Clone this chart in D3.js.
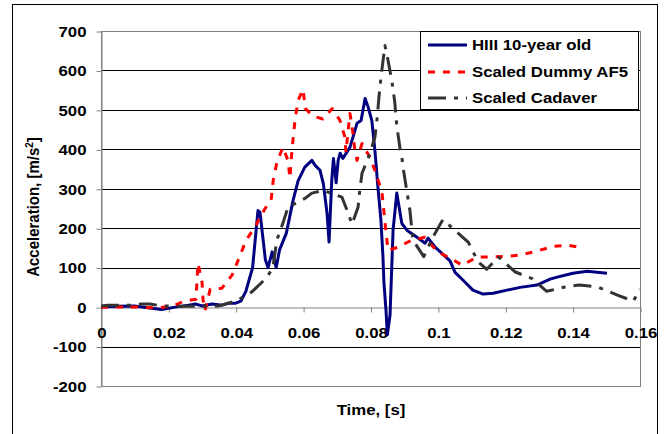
<!DOCTYPE html>
<html>
<head>
<meta charset="utf-8">
<script src="https://cdn.jsdelivr.net/npm/d3@7"></script>
<style>
  body { margin: 0; background: #fff; }
  svg { display: block; }
  text { font-family: "Liberation Sans", Arial, sans-serif; font-weight: bold; fill: #000; }
</style>
</head>
<body>
<div id="chart"></div>
<script>
// time axis ticks and acceleration ticks
const xTicks = [0, 0.02, 0.04, 0.06, 0.08, 0.1, 0.12, 0.14, 0.16];
const yTicks = [-200, -100, 0, 100, 200, 300, 400, 500, 600, 700];

const seriesNames = ['HIII 10-year old', 'Scaled Dummy AF5', 'Scaled Cadaver'];

// HIII 10-year old
const hiiiTime = [0, 0.005, 0.01, 0.015, 0.018, 0.022, 0.026, 0.028, 0.030, 0.033, 0.036, 0.038, 0.040,
  0.0415, 0.043, 0.044, 0.045, 0.0455, 0.0466, 0.0472, 0.0488, 0.0496, 0.0508, 0.052, 0.053, 0.055,
  0.057, 0.0585, 0.0605, 0.0626, 0.0635, 0.065, 0.066, 0.0671, 0.0677, 0.0685, 0.069, 0.0698, 0.0704,
  0.071, 0.0718, 0.0739, 0.076, 0.0772, 0.0784, 0.0793, 0.0804, 0.0813, 0.0822, 0.0831, 0.0837, 0.084,
  0.0846, 0.085, 0.0858, 0.0867, 0.0878, 0.0893, 0.0908, 0.0938, 0.0962, 0.0971, 0.0992, 0.1036,
  0.1051, 0.1075, 0.1104, 0.1134, 0.1164, 0.1205, 0.1244, 0.1294, 0.1333, 0.1354, 0.1401, 0.1443, 0.1502];
const hiiiAccel = [0, 2, 3, -3, -6, 0, 5, 8, 3, 8, 5, 10, 10,
  15, 40, 70, 100, 145, 245, 240, 120, 100, 140, 100, 145, 187,
  270, 320, 355, 372, 360, 347, 313, 238, 165, 322, 377, 315, 372,
  390, 377, 405, 466, 473, 529, 507, 473, 398, 304, 220, 127, 60,
  -8, -70, -20, 195, 289, 212, 195, 177, 162, 175, 152, 117,
  88, 68, 43, 33, 35, 43, 50, 56, 71, 76, 86, 91, 86];

// Scaled Dummy AF5
const dummyTime = [0, 0.0056, 0.011, 0.0166, 0.0214, 0.0246, 0.0282, 0.0285, 0.0288, 0.030, 0.0303, 0.0309,
  0.0324, 0.0359, 0.0389, 0.041, 0.043, 0.046, 0.0487, 0.0505, 0.0511, 0.0522, 0.054, 0.0555, 0.0561,
  0.0567, 0.0576, 0.0585, 0.060, 0.0606, 0.0629, 0.0659, 0.0686, 0.0709, 0.0724, 0.0727, 0.0739, 0.0748,
  0.0754, 0.076, 0.0775, 0.0798, 0.0816, 0.0834, 0.084, 0.0846, 0.0852, 0.0882, 0.0923, 0.0962, 0.100,
  0.1036, 0.1072, 0.1116, 0.1155, 0.1205, 0.1244, 0.1294, 0.1342, 0.1386, 0.1431];
const dummyAccel = [0, 0, 0, -2, 3, 15, 20, 68, 111, 63, 18, -8,
  45, 48, 81, 125, 168, 208, 250, 271, 320, 367, 405, 372, 327,
  400, 474, 524, 552, 504, 484, 477, 503, 474, 431, 393, 491, 441,
  393, 372, 415, 380, 340, 291, 241, 190, 144, 152, 170, 177, 139,
  125, 106, 127, 127, 129, 132, 142, 154, 157, 150];

// Scaled Cadaver
const cadaverTime = [0, 0.002, 0.009, 0.012, 0.0145, 0.018, 0.024, 0.030, 0.035, 0.0385, 0.041, 0.0447,
  0.049, 0.051, 0.0522, 0.054, 0.0555, 0.0606, 0.0626, 0.066, 0.0715, 0.0733, 0.0745, 0.0763, 0.0768,
  0.0775, 0.0793, 0.0813, 0.082, 0.0825, 0.0832, 0.0843, 0.0852, 0.0864, 0.0872, 0.0878, 0.0888, 0.0893,
  0.0898, 0.0917, 0.0926, 0.0958, 0.0985, 0.1015, 0.105, 0.109, 0.112, 0.1145, 0.118, 0.123, 0.128,
  0.1323, 0.1377, 0.142, 0.1475, 0.1535, 0.158, 0.16];
const cadaverAccel = [3, 5, 5, 8, 8, 3, 2, 2, 3, 12, 20, 38,
  73, 99, 170, 213, 253, 276, 289, 296, 279, 240, 210, 253, 295,
  340, 377, 430, 481, 532, 590, 663, 626, 570, 520, 460, 400, 380,
  347, 245, 170, 128, 177, 222, 195, 165, 114, 96, 127, 89, 72,
  40, 51, 56, 51, 30, 15, 45];

const width = 666, height = 434;
const plot = { left: 101, right: 640, top: 31, bottom: 386 };
const stretch = 1.12;

const svg = d3.select('#chart').append('svg')
  .attr('width', width)
  .attr('height', height);

// outer chart border
svg.append('rect')
  .attr('x', 12.5).attr('y', 4.5)
  .attr('width', 645).attr('height', 440)
  .attr('fill', '#fff').attr('stroke', '#000');

const x = d3.scaleLinear().domain([0, 0.16]).range([plot.left, plot.right]);
const y = d3.scaleLinear().domain([-200, 700]).range([plot.bottom, plot.top]);

// gridlines
svg.append('g')
  .selectAll('line')
  .data(yTicks.filter(d => d > -200 && d < 700 && d !== 0))
  .enter().append('line')
  .attr('x1', plot.left).attr('x2', plot.right)
  .attr('y1', d => Math.round(y(d)) + 0.5)
  .attr('y2', d => Math.round(y(d)) + 0.5)
  .attr('stroke', '#000');

// plot area border
svg.append('rect')
  .attr('x', plot.left + 0.5).attr('y', plot.top + 0.5)
  .attr('width', plot.right - plot.left).attr('height', plot.bottom - plot.top)
  .attr('fill', 'none').attr('stroke', '#808080');

// y axis
const yAxis = svg.append('g')
  .attr('transform', `translate(${plot.left + 0.5},0.5)`)
  .call(d3.axisLeft(y).tickValues(yTicks).tickSize(5).tickSizeOuter(0).tickFormat(d => String(d)));
yAxis.select('.domain').attr('stroke', '#808080');
yAxis.selectAll('.tick line').attr('stroke', '#808080');
yAxis.selectAll('.tick text')
  .attr('x', -15 / stretch)
  .attr('transform', `scale(${stretch},1)`)
  .style('font-size', '15px')
  .style('font-family', '"Liberation Sans", Arial, sans-serif')
  .style('font-weight', 'bold');

// x axis, crossing at zero
const xAxis = svg.append('g')
  .attr('transform', `translate(0.5,${Math.round(y(0)) + 0.5})`)
  .call(d3.axisBottom(x).tickValues(xTicks).tickSize(5).tickSizeOuter(0).tickFormat(d => String(d)));
xAxis.select('.domain').attr('stroke', '#808080');
xAxis.selectAll('.tick line').attr('stroke', '#808080');
xAxis.selectAll('.tick text')
  .attr('y', 31).attr('dy', '0')
  .attr('x', 0)
  .attr('transform', `scale(${stretch},1)`)
  .style('font-size', '15px')
  .style('font-family', '"Liberation Sans", Arial, sans-serif')
  .style('font-weight', 'bold');

// axis titles
svg.append('text')
  .attr('transform', `translate(371,415) scale(${stretch},1)`)
  .attr('text-anchor', 'middle')
  .style('font-size', '15px')
  .text('Time, [s]');

const yTitle = svg.append('text')
  .attr('transform', `translate(39,207) rotate(-90) scale(1,${stretch})`)
  .attr('text-anchor', 'middle')
  .style('font-size', '15px');
yTitle.append('tspan').text('Acceleration, [m/s');
yTitle.append('tspan').attr('baseline-shift', 'super').style('font-size', '10px').text('2');
yTitle.append('tspan').text(']');

// series
svg.append('clipPath').attr('id', 'plot-clip')
  .append('rect')
  .attr('x', plot.left).attr('y', plot.top)
  .attr('width', plot.right - plot.left).attr('height', plot.bottom - plot.top);

const line = d3.line().x(d => x(d[0])).y(d => y(d[1]));

const series = [
  { name: seriesNames[0], t: hiiiTime, v: hiiiAccel, color: '#000080', dash: null },
  { name: seriesNames[1], t: dummyTime, v: dummyAccel, color: '#ff0000', dash: '7,8' },
  { name: seriesNames[2], t: cadaverTime, v: cadaverAccel, color: '#333333', dash: '18,8,4,8' }
];

const lines = svg.append('g').attr('clip-path', 'url(#plot-clip)');
series.forEach(s => {
  lines.append('path')
    .datum(s.t.map((t, i) => [t, s.v[i]]))
    .attr('d', line)
    .attr('fill', 'none')
    .attr('stroke', s.color)
    .attr('stroke-width', 3)
    .attr('stroke-linejoin', 'round')
    .attr('stroke-dasharray', s.dash);
});

// legend
const legend = svg.append('g');
legend.append('rect')
  .attr('x', 420.5).attr('y', 31.5)
  .attr('width', 218).attr('height', 78)
  .attr('fill', '#fff').attr('stroke', '#000');

const rowY = [45, 72, 98];
series.forEach((s, i) => {
  legend.append('line')
    .attr('x1', 428).attr('x2', 467)
    .attr('y1', rowY[i]).attr('y2', rowY[i])
    .attr('stroke', s.color)
    .attr('stroke-width', 3)
    .attr('stroke-dasharray', s.dash);
  legend.append('text')
    .attr('transform', `translate(472,${rowY[i]}) scale(${stretch},1)`)
    .attr('dy', '0.36em')
    .style('font-size', '15px')
    .text(s.name);
});
</script>
</body>
</html>
